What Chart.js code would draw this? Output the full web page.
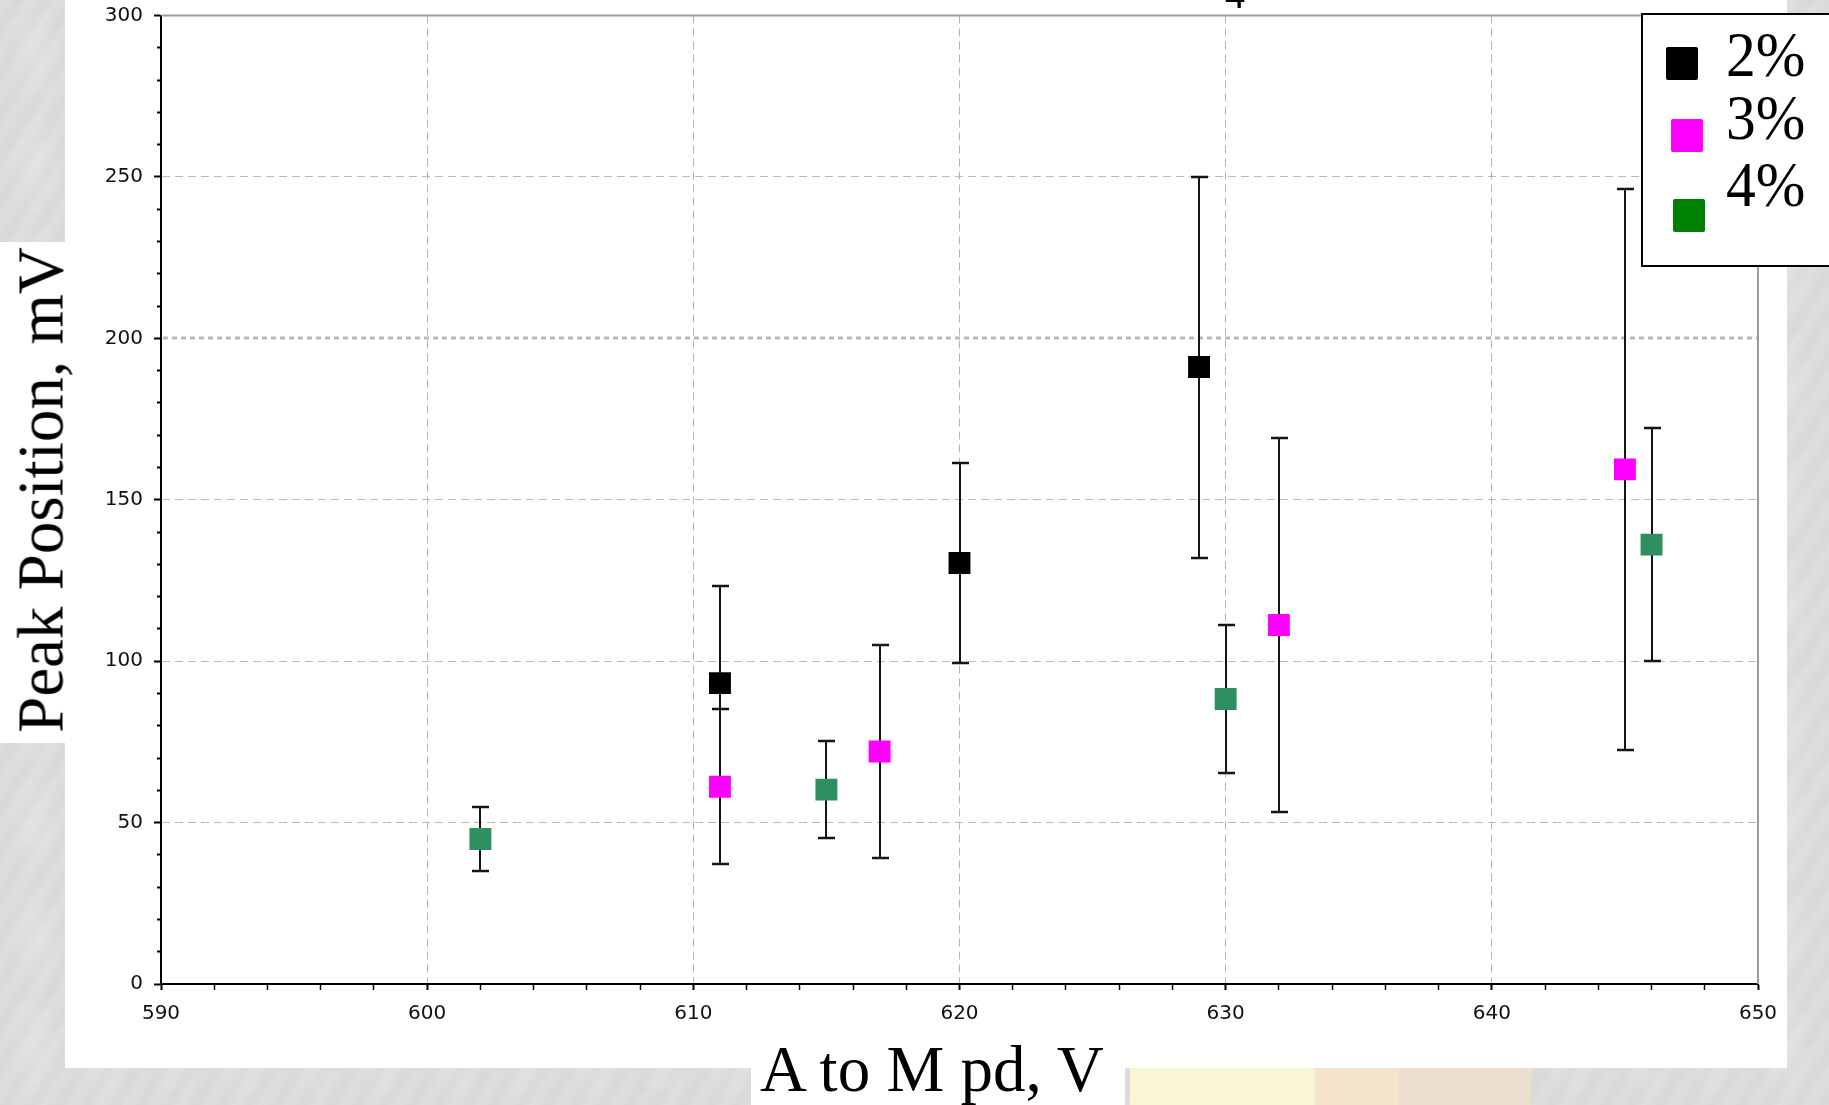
<!DOCTYPE html>
<html lang="en">
<head>
<meta charset="utf-8">
<title>Peak Position vs A to M pd</title>
<script src="https://cdn.jsdelivr.net/npm/chart.js@4.4.1/dist/chart.umd.min.js"></script>
<style>
    html, body { margin: 0; padding: 0; }
    body {
        position: relative;
        width: 1829px;
        height: 1105px;
        overflow: hidden;
        background-color: #dcdcdc;
        background-image:
            radial-gradient(ellipse 300px 120px at 20% 30%, rgba(255,255,255,0.35), rgba(255,255,255,0) 70%),
            radial-gradient(ellipse 260px 160px at 90% 70%, rgba(255,255,255,0.3), rgba(255,255,255,0) 70%),
            radial-gradient(ellipse 40px 90px at 50% 50%, rgba(255,255,255,0.18), rgba(255,255,255,0) 70%),
            repeating-linear-gradient(122deg, rgba(255,255,255,0.08) 0px, rgba(255,255,255,0) 7px, rgba(0,0,0,0.02) 15px, rgba(255,255,255,0) 23px);
        background-size: auto, auto, 70px 110px, auto;
        font-family: 'Liberation Serif', 'Times New Roman', serif;
        color: #000;
    }
    .panel { position: absolute; left: 65px; top: 0; width: 1722px; height: 1068px; background: #fff; }
    .y-title-box { position: absolute; left: 0; top: 242px; width: 65px; height: 501px; background: #fff; }
    .x-title-box { position: absolute; left: 751px; top: 1068px; width: 374px; height: 37px; background: #fff; }
    .deco { position: absolute; top: 1068px; height: 37px; }
    #chart { position: absolute; left: 0; top: 0; }
    .y-title {
        position: absolute; left: 40.6px; top: 490px;
        transform: translate(-50%, -50%) rotate(-90deg);
        font-size: 65px; line-height: 1; white-space: nowrap;
    }
    .x-title { position: absolute; left: 760px; top: 1037px; font-size: 65px; line-height: 1; white-space: nowrap; }
    .cut-title { position: absolute; left: 1225px; top: -25px; font-size: 40px; line-height: 1; }
    .legend {
        position: absolute; left: 1641px; top: 13px; width: 210px; height: 254px;
        box-sizing: border-box; border: 2px solid #000; background: #fff;
    }
    .swatch { position: absolute; width: 32px; height: 33px; border-radius: 2px; }
    .legend-text {
        position: absolute; left: 1726px; font-size: 64px; line-height: 1; white-space: nowrap;
        transform: scaleX(0.93); transform-origin: left center;
    }
</style>
</head>
<body>
<div class="panel"></div>
<div class="y-title-box"></div>
<div class="x-title-box"></div>
<div class="deco" style="left:1130px; width:185px; background:#f9f7d3;"></div>
<div class="deco" style="left:1315px; width:83px; background:#f4e3cd;"></div>
<div class="deco" style="left:1398px; width:133px; background:#ecdfd0;"></div>

<canvas id="chart" width="1829" height="1105"></canvas>

<div class="cut-title">4</div>
<div class="y-title">Peak Position, mV</div>
<div class="x-title">A to M pd, V</div>

<div class="legend"></div>
<div class="swatch" style="left:1666px; top:47px; background:#000000;"></div>
<div class="swatch" style="left:1671px; top:119px; background:#ff00ff;"></div>
<div class="swatch" style="left:1673px; top:199px; background:#008000;"></div>
<div class="legend-text" id="leg0" style="top:23px;"></div>
<div class="legend-text" id="leg1" style="top:86px;"></div>
<div class="legend-text" id="leg2" style="top:153px;"></div>

<script>
// axis ranges and tick spacing
const xMin = 590, xMax = 650, xStep = 2, xLabelEvery = 10;
const yMin = 0, yMax = 300, yStep = 10, yLabelEvery = 50;
const yEmphasis = 200; // the heavier dotted grid line

const seriesNames = ['2%', '3%', '4%'];

// 2% series: voltage (V), peak position (mV), error half-width (mV)
const voltage2 = [611, 620, 629];
const peak2 = [93.2, 130.4, 191.1];
const spread2 = [30, 31, 59];

// 3% series
const voltage3 = [611, 617, 632, 645];
const peak3 = [61.1, 72.0, 111.2, 159.4];
const spread3 = [24, 33, 58, 87];

// 4% series
const voltage4 = [602, 615, 630, 646];
const peak4 = [44.9, 60.2, 88.3, 136.1];
const spread4 = [10, 15, 23, 36];

const toPoints = (xs, ys, errs) => xs.map((x, i) => ({ x: x, y: ys[i], err: errs[i] }));

seriesNames.forEach((name, i) => {
    document.getElementById('leg' + i).textContent = name;
});

// vertical error bars with caps, drawn under the markers
const errorBars = {
    id: 'errorBars',
    beforeDatasetsDraw(chart) {
        const { ctx, scales: { x, y } } = chart;
        ctx.save();
        ctx.strokeStyle = '#151515';
        chart.data.datasets.forEach((ds, i) => {
            if (!chart.isDatasetVisible(i)) return;
            ds.data.forEach(pt => {
                const px = Math.round(x.getPixelForValue(pt.x));
                const top = Math.round(y.getPixelForValue(pt.y + pt.err));
                const bot = Math.round(y.getPixelForValue(pt.y - pt.err));
                ctx.lineWidth = 2;
                ctx.beginPath();
                ctx.moveTo(px, top);
                ctx.lineTo(px, bot);
                ctx.stroke();
                ctx.lineWidth = 2.5;
                ctx.beginPath();
                ctx.moveTo(px - 8, top);
                ctx.lineTo(px + 9, top);
                ctx.moveTo(px - 8, bot);
                ctx.lineTo(px + 9, bot);
                ctx.stroke();
            });
        });
        ctx.restore();
    }
};

// top/right frame and the dotted 200 line
const plotFrame = {
    id: 'plotFrame',
    beforeDatasetsDraw(chart) {
        const { ctx, chartArea: { left, top, right, bottom }, scales: { y } } = chart;
        ctx.save();
        const yy = Math.round(y.getPixelForValue(yEmphasis));
        ctx.strokeStyle = '#b9b9b9';
        ctx.lineWidth = 3;
        ctx.setLineDash([5, 4]);
        ctx.beginPath();
        ctx.moveTo(left + 2, yy);
        ctx.lineTo(right, yy);
        ctx.stroke();

        ctx.setLineDash([]);
        ctx.strokeStyle = '#9c9c9c';
        ctx.lineWidth = 2;
        ctx.beginPath();
        ctx.moveTo(left, top);
        ctx.lineTo(right, top);
        ctx.lineTo(right, bottom);
        ctx.stroke();
        ctx.restore();
    }
};

const tickFont = { family: "'DejaVu Sans', sans-serif", size: 20 };

const isLabelled = (v, every) => Math.abs(v % every) < 1e-6;

new Chart(document.getElementById('chart'), {
    type: 'scatter',
    data: {
        datasets: [
            {
                label: seriesNames[0],
                data: toPoints(voltage2, peak2, spread2),
                backgroundColor: '#000000',
                pointBackgroundColor: '#000000'
            },
            {
                label: seriesNames[1],
                data: toPoints(voltage3, peak3, spread3),
                backgroundColor: '#ff00ff',
                pointBackgroundColor: '#ff00ff'
            },
            {
                label: seriesNames[2],
                data: toPoints(voltage4, peak4, spread4),
                backgroundColor: '#2e8f5f',
                pointBackgroundColor: '#2e8f5f'
            }
        ]
    },
    options: {
        responsive: false,
        animation: false,
        devicePixelRatio: 1,
        layout: { padding: { left: 0, top: 15, right: 71, bottom: 0 } },
        elements: {
            point: { pointStyle: 'rect', radius: 15.5, hoverRadius: 15.5, borderWidth: 0 }
        },
        scales: {
            x: {
                type: 'linear',
                min: xMin,
                max: xMax,
                afterFit: (scale) => { scale.height = 121; },
                border: { display: true, color: '#000', width: 2, dash: [8, 5] },
                grid: {
                    color: (ctx) => {
                        const v = ctx.tick ? ctx.tick.value : null;
                        if (v === null || v === xMin || v === xMax || !isLabelled(v, xLabelEvery)) return 'rgba(0,0,0,0)';
                        return '#b4b4b4';
                    },
                    lineWidth: 1,
                    tickColor: '#000',
                    tickLength: 6,
                    tickWidth: (ctx) => (ctx.tick && isLabelled(ctx.tick.value, xLabelEvery) ? 2 : 1.5)
                },
                ticks: {
                    stepSize: xStep,
                    autoSkip: false,
                    maxRotation: 0,
                    padding: 12,
                    color: '#111',
                    font: tickFont,
                    callback: (v) => (isLabelled(v, xLabelEvery) ? v : '')
                }
            },
            y: {
                type: 'linear',
                min: yMin,
                max: yMax,
                afterFit: (scale) => {
                    scale.width = 161;
                    scale.paddingTop = 0;
                    scale.paddingBottom = 0;
                },
                border: { display: true, color: '#000', width: 2, dash: [8, 5] },
                grid: {
                    color: (ctx) => {
                        const v = ctx.tick ? ctx.tick.value : null;
                        if (v === null || v === yMin || v === yMax || v === yEmphasis || !isLabelled(v, yLabelEvery)) return 'rgba(0,0,0,0)';
                        return '#bcbcbc';
                    },
                    lineWidth: 1,
                    tickColor: '#000',
                    tickLength: 7,
                    tickWidth: 2,
                    tickBorderDash: (ctx) => (ctx.tick && isLabelled(ctx.tick.value, yLabelEvery) ? [] : [0, 3, 3, 100])
                },
                ticks: {
                    stepSize: yStep,
                    autoSkip: false,
                    padding: 11,
                    color: '#111',
                    font: tickFont,
                    callback: (v) => (isLabelled(v, yLabelEvery) ? v : '')
                }
            }
        },
        plugins: {
            legend: { display: false },
            tooltip: { enabled: false }
        }
    },
    plugins: [plotFrame, errorBars]
});
</script>
</body>
</html>
